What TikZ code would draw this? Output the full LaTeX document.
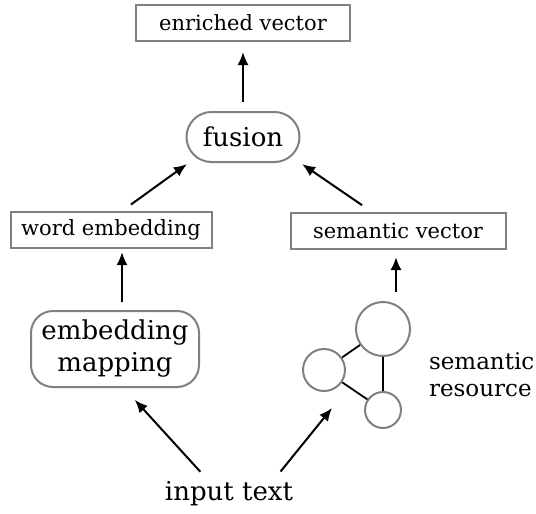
\documentclass[tikz,border=0pt]{standalone}
\usepackage{xcolor}
\usepackage{fontspec}
\setmainfont{DejaVu Serif}
\usepackage{tikz}
\usetikzlibrary{positioning,calc,arrows.meta}

\definecolor{boxgray}{RGB}{128,128,128}

\begin{document}
\begin{tikzpicture}[x=0.5pt,y=-0.5pt,
		vecbox/.style={draw=boxgray,line width=1pt,minimum height=18pt,inner sep=0pt,font=\fontsize{10.5}{12}\selectfont},
		roundbox/.style={draw=boxgray,line width=1pt,inner sep=0pt,align=center,font=\fontsize{13}{15.5}\selectfont},
		res/.style={circle,draw=boxgray,line width=1pt,inner sep=0pt},
		arr/.style={-{Latex[length=6.5pt,width=5.5pt]},line width=1pt},
		link/.style={line width=0.9pt}]
		\useasboundingbox (0,0) rectangle (536,514);
		\node[vecbox,minimum width=107pt] (enriched) at (243,23) {enriched vector};
		\node[roundbox,rounded corners=12.5pt,minimum width=56.5pt,minimum height=25pt] (fusion) at (243,137) {fusion};
		\node[vecbox,minimum width=100.5pt] (wordemb) at (111,230) {word embedding};
		\node[vecbox,minimum width=107.5pt] (semvec) at (398,231) {semantic vector};
		\node[roundbox,rounded corners=11pt,minimum width=84pt,minimum height=38pt] (mapping) at (115,349) {embedding\\[0.5pt]mapping};
		\node[res,minimum size=27pt] (resA) at (383,329) {};
		\node[res,minimum size=21pt] (resB) at (324,370) {};
		\node[res,minimum size=18pt] (resC) at (383,410) {};
		\node[align=left,anchor=west,font=\fontsize{11.5}{13.5}\selectfont] (reslabel) at (422,375) {semantic\\resource};
		\node[font=\fontsize{13}{15.5}\selectfont] (input) at (229,494) {input text};
		\draw[link] (resA) -- (resB);
		\draw[link] (resB) -- (resC);
		\draw[link] (resA) -- (resC);
		\draw[arr,shorten <=4.5pt,shorten >=5pt] (fusion) -- (enriched);
		\draw[arr,shorten <=4pt,shorten >=1.5pt] ([xshift=3.5pt]mapping.north) -- ([xshift=5.5pt]wordemb.south);
		\draw[arr,shorten <=4.5pt,shorten >=3.5pt] ([xshift=6.5pt]resA.north) -- ([xshift=-1pt]semvec.south);
		\draw[arr,shorten <=5.5pt,shorten >=1pt] ([xshift=5.5pt]wordemb.north) -- ([xshift=1.5pt]fusion.south west);
		\draw[arr,shorten <=6pt,shorten >=1pt] ([xshift=-13pt]semvec.north) -- (fusion.south east);
		\draw[arr,shorten <=2pt,shorten >=8pt] ([xshift=-13pt]input.north) -- ([xshift=4.5pt]mapping.south);
		\draw[arr,shorten <=2pt] ([xshift=24.5pt]input.north) -- ([xshift=4pt,yshift=-19pt]resB.center);
	\end{tikzpicture}
\end{document}
